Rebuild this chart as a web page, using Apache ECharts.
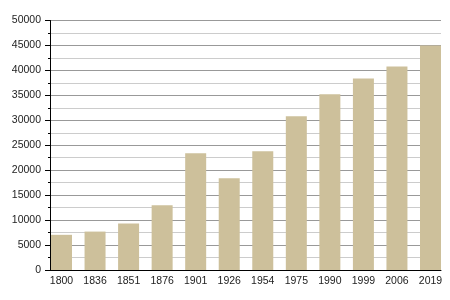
<!DOCTYPE html>
<html>
<head>
<meta charset="utf-8">
<script src="https://cdn.jsdelivr.net/npm/echarts@6/dist/echarts.min.js"></script>
<style>
html,body{margin:0;padding:0;background:#fff;}
#chart{width:450px;height:300px;}
</style>
</head>
<body>
<div id="chart"></div>
<script>
var years = ['1800','1836','1851','1876','1901','1926','1954','1975','1990','1999','2006','2019'];
var population = [7050, 7700, 9300, 13000, 23400, 18400, 23800, 30800, 35200, 38400, 40800, 45000];
var yMin = 0, yMax = 50000, yStep = 5000;

var chart = echarts.init(document.getElementById('chart'), null, {renderer:'canvas'});
var font = '"Liberation Sans", Arial, sans-serif';
chart.setOption({
  animation: false,
  backgroundColor: '#ffffff',
  grid: [
    {left: 50, right: 9, top: 20.5, bottom: 30},
    {left: 44.73, right: 2.73, top: 20.5, bottom: 30}
  ],
  xAxis: [
    {gridIndex: 0, type: 'category', data: years,
     axisLine: {show: true, lineStyle: {color: '#000', width: 1}},
     axisTick: {show: false}, axisLabel: {show: false}, splitLine: {show: false}},
    {gridIndex: 1, type: 'category', data: years,
     axisLine: {show: false}, axisTick: {show: false},
     axisLabel: {show: true, margin: 6, fontSize: 10.5, color: '#222', fontFamily: font}}
  ],
  yAxis: [
    {gridIndex: 0, type: 'value', min: yMin, max: yMax, interval: yStep,
     axisLine: {show: true, lineStyle: {color: '#000', width: 1}},
     axisTick: {show: true, length: 5, lineStyle: {color: '#000'}},
     minorTick: {show: true, splitNumber: 2, length: 2, lineStyle: {color: '#000'}},
     axisLabel: {margin: 9, fontSize: 10.5, color: '#222', fontFamily: font,
       formatter: function (v) { return String(v); }},
     splitLine: {show: true, lineStyle: {color: '#999', width: 1}},
     minorSplitLine: {show: true, lineStyle: {color: '#ccc', width: 1}}},
    {gridIndex: 1, type: 'value', min: yMin, max: yMax, show: false, splitLine: {show: false}}
  ],
  series: [{
    type: 'bar', xAxisIndex: 1, yAxisIndex: 1,
    data: population, barWidth: 21,
    itemStyle: {color: '#cdc09b'}
  }]
});
</script>
</body>
</html>
